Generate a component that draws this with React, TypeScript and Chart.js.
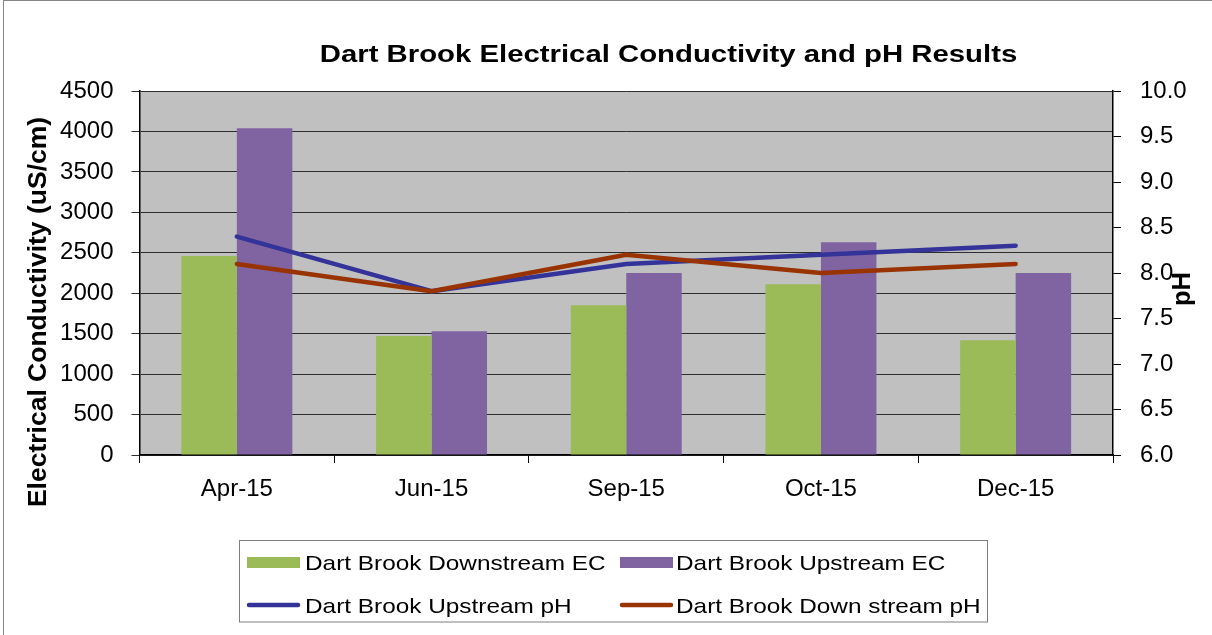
import React, { useEffect, useRef } from "react";
import { Chart, registerables } from "chart.js";

Chart.register(...registerables);

// Sampling dates
const categories = ["Apr-15", "Jun-15", "Sep-15", "Oct-15", "Dec-15"];

// Electrical conductivity (uS/cm)
const downstreamEC = [2460, 1470, 1850, 2110, 1420];
const upstreamEC = [4040, 1530, 2250, 2630, 2250];

// pH
const upstreamPH = [8.4, 7.8, 8.1, 8.2, 8.3];
const downstreamPH = [8.1, 7.8, 8.2, 8.0, 8.1];

// Series names
const seriesNames = [
  "Dart Brook Downstream EC",
  "Dart Brook Upstream EC",
  "Dart Brook Upstream pH",
  "Dart Brook Down stream pH",
];

// Axis ranges
const ecRange = [0, 4500, 500];
const phRange = [6, 10, 0.5];

const TITLE = "Dart Brook Electrical Conductivity and pH Results";
const EC_TITLE = "Electrical Conductivity (uS/cm)";
const PH_TITLE = "pH";

const FONT = "'Liberation Sans', Arial, Helvetica, sans-serif";
const GREEN = "#9BBB59";
const PURPLE = "#8064A2";
const BLUE = "#333399";
const RUST = "#993300";

// Fill the plotting area and draw the outer frame
const backgroundPlugin = {
  id: "plotBackground",
  beforeDraw(chart: any) {
    const { ctx, chartArea, width, height } = chart;
    ctx.save();
    ctx.fillStyle = "#ffffff";
    ctx.fillRect(0, 0, width, height);
    ctx.fillStyle = "#C0C0C0";
    ctx.fillRect(
      chartArea.left,
      chartArea.top,
      chartArea.right - chartArea.left,
      chartArea.bottom - chartArea.top
    );
    ctx.strokeStyle = "#868686";
    ctx.lineWidth = 1;
    ctx.strokeRect(3.5, 0.5, width + 50, height + 50);
    ctx.restore();
  },
};

// Chart title, axis titles and the boxed legend
const annotationPlugin = {
  id: "annotations",
  afterDraw(chart: any) {
    const { ctx } = chart;
    ctx.save();
    ctx.fillStyle = "#000";

    // main title, slightly widened
    ctx.font = `bold 23px ${FONT}`;
    ctx.textAlign = "center";
    ctx.textBaseline = "alphabetic";
    ctx.save();
    ctx.translate(668.5, 62);
    ctx.scale(1.275, 1);
    ctx.fillText(TITLE, 0, 0);
    ctx.restore();

    // left axis title
    ctx.font = `bold 26.5px ${FONT}`;
    ctx.save();
    ctx.translate(46, 312);
    ctx.rotate(-Math.PI / 2);
    ctx.fillText(EC_TITLE, 0, 0);
    ctx.restore();

    // right axis title
    ctx.font = `bold 25.5px ${FONT}`;
    ctx.save();
    ctx.translate(1190, 289);
    ctx.rotate(-Math.PI / 2);
    ctx.fillText(PH_TITLE, 0, 0);
    ctx.restore();

    // legend
    ctx.strokeStyle = "#7f7f7f";
    ctx.lineWidth = 1;
    ctx.strokeRect(239.5, 540.5, 748, 81.5);

    const ds = chart.data.datasets;
    const cols = [247, 620];
    const textX = [305, 676];
    const rows = [562.5, 605];
    ctx.font = `21px ${FONT}`;
    ctx.textAlign = "left";
    ds.forEach((d: any, i: number) => {
      const col = i % 2;
      const row = Math.floor(i / 2);
      const cy = rows[row];
      if (d.type === "line") {
        ctx.save();
        ctx.strokeStyle = d.borderColor;
        ctx.lineWidth = 4.5;
        ctx.lineCap = "round";
        ctx.beginPath();
        ctx.moveTo(cols[col] + 2, cy);
        ctx.lineTo(cols[col] + 51, cy);
        ctx.stroke();
        ctx.restore();
      } else {
        ctx.fillStyle = d.backgroundColor;
        ctx.fillRect(cols[col], cy - 5.5, 53, 11);
      }
      ctx.fillStyle = "#000";
      ctx.save();
      ctx.translate(textX[col], cy + 7.5);
      ctx.scale(1.16, 1);
      ctx.fillText(d.label, 0, 0);
      ctx.restore();
    });
    ctx.restore();
  },
};

export default function App() {
  const canvasRef = useRef<HTMLCanvasElement | null>(null);

  useEffect(() => {
    const canvas = canvasRef.current;
    if (!canvas) return;
    const tickFont = { family: FONT, size: 24 };
    const chart = new Chart(canvas, {
      type: "bar",
      data: {
        labels: categories,
        datasets: [
          {
            type: "bar",
            label: seriesNames[0],
            data: downstreamEC,
            backgroundColor: GREEN,
            yAxisID: "y",
            order: 2,
            categoryPercentage: 0.57,
            barPercentage: 1,
          },
          {
            type: "bar",
            label: seriesNames[1],
            data: upstreamEC,
            backgroundColor: PURPLE,
            yAxisID: "y",
            order: 2,
            categoryPercentage: 0.57,
            barPercentage: 1,
          },
          {
            type: "line",
            label: seriesNames[2],
            data: upstreamPH,
            borderColor: BLUE,
            backgroundColor: BLUE,
            borderWidth: 4.5,
            borderCapStyle: "round",
            borderJoinStyle: "round",
            pointRadius: 0,
            tension: 0,
            yAxisID: "y1",
            order: 1,
          },
          {
            type: "line",
            label: seriesNames[3],
            data: downstreamPH,
            borderColor: RUST,
            backgroundColor: RUST,
            borderWidth: 4.5,
            borderCapStyle: "round",
            borderJoinStyle: "round",
            pointRadius: 0,
            tension: 0,
            yAxisID: "y1",
            order: 0,
          },
        ] as any,
      },
      options: {
        responsive: true,
        maintainAspectRatio: false,
        animation: false,
        events: [],
        layout: { padding: { top: 91, left: 0, right: 0, bottom: 0 } },
        plugins: {
          legend: { display: false },
          title: { display: false },
          tooltip: { enabled: false },
        },
        scales: {
          x: {
            type: "category",
            offset: true,
            grid: {
              display: true,
              drawOnChartArea: false,
              drawTicks: true,
              tickLength: 8,
              offset: true,
              color: "#000",
              lineWidth: 1,
            },
            border: { display: true, color: "#000", width: 1.5 },
            ticks: {
              font: tickFont,
              color: "#000",
              padding: 12,
              maxRotation: 0,
              autoSkip: false,
            },
            afterFit: (s: any) => {
              s.height = 180;
            },
          },
          y: {
            position: "left",
            min: ecRange[0],
            max: ecRange[1],
            ticks: {
              stepSize: ecRange[2],
              font: tickFont,
              color: "#000",
              padding: 18,
              callback: (v: any) => String(v),
            },
            grid: {
              color: "#2e2e2e",
              lineWidth: 1,
              drawTicks: true,
              tickLength: 8,
            },
            border: { display: true, color: "#000", width: 1.5 },
            afterFit: (s: any) => {
              s.width = 139.5;
            },
          },
          y1: {
            position: "right",
            min: phRange[0],
            max: phRange[1],
            ticks: {
              stepSize: phRange[2],
              font: tickFont,
              color: "#000",
              padding: 19,
              callback: (v: any) => Number(v).toFixed(1),
            },
            grid: {
              drawOnChartArea: false,
              drawTicks: true,
              tickLength: 8,
              color: "#000",
            },
            border: { display: true, color: "#000", width: 1.5 },
            afterFit: (s: any) => {
              s.width = 99;
            },
          },
        },
      } as any,
      plugins: [backgroundPlugin, annotationPlugin],
    });
    return () => chart.destroy();
  }, []);

  return (
    <div
      style={{
        position: "absolute",
        left: 0,
        top: 0,
        width: 1212,
        height: 635,
        background: "#fff",
      }}
    >
      <canvas ref={canvasRef} />
    </div>
  );
}
